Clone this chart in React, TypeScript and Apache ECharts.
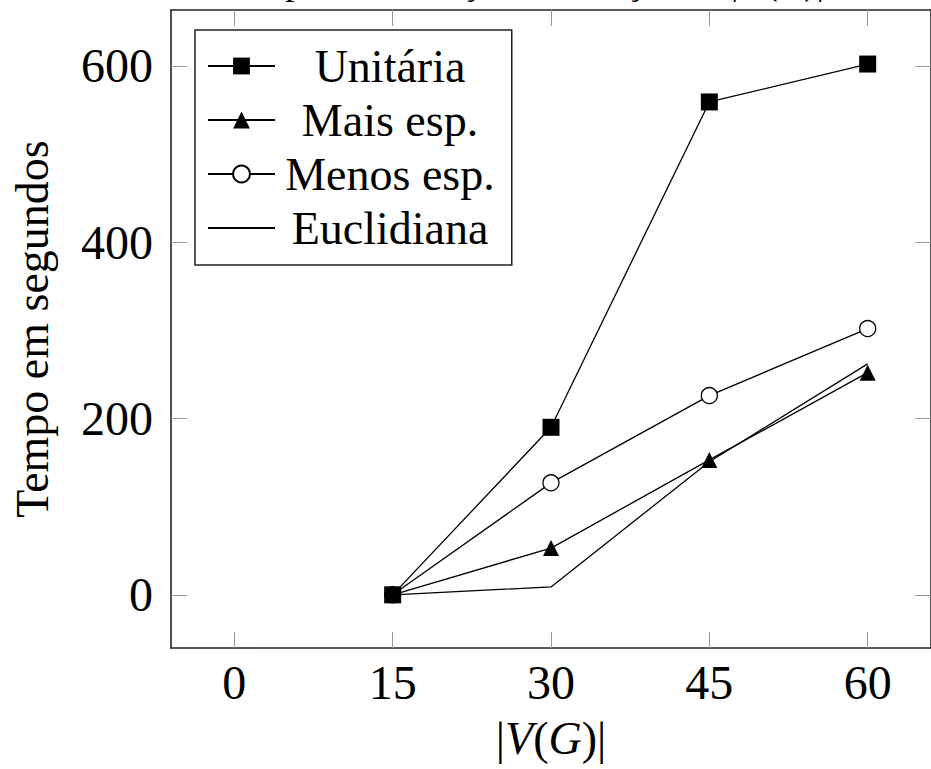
import React, { useEffect, useRef } from "react";
import * as echarts from "echarts";

const seriesNames = ["Unitária", "Mais esp.", "Menos esp.", "Euclidiana"];
const xValues = [15, 30, 45, 60];
const unitaria = [0, 190, 559, 602];
const maisEsp = [0, 53, 153, 252];
const menosEsp = [0, 127, 226, 302];
const euclidiana = [0, 9, 151, 262];
const xTicks = [0, 15, 30, 45, 60];
const yTicks = [0, 200, 400, 600];
const titleText = "Tempo de execução em função de |V(G)|";

const FONT = "Liberation Serif";

function pairs(ys: number[]) {
  return xValues.map((x, i) => [x, ys[i]]);
}

export default function App() {
  const ref = useRef<HTMLDivElement>(null);
  useEffect(() => {
    document.body.style.margin = "0";
    const chart = echarts.init(ref.current!, null, { renderer: "svg" });
    const tickStyle = { show: true, inside: true, length: 16, lineStyle: { color: "#999", width: 1 } };
    const lineAxis = { show: true, onZero: false, lineStyle: { color: "#222", width: 1.6 } };
    const lineStyle = { color: "#000", width: 1.3 };
    const TXT = 46;
    const NUM = 48;
    chart.setOption({
      animation: false,
      backgroundColor: "#fff",
      textStyle: { fontFamily: FONT },
      grid: { left: 171, top: 10, width: 769, height: 638, containLabel: false },
      graphic: [
        {
          type: "text",
          x: 522,
          y: -19,
          z: 100,
          style: {
            text: titleText,
            fontFamily: FONT,
            fontSize: 37,
            fill: "#000",
            align: "center",
            verticalAlign: "middle",
          },
        },
      ],
      legend: {
        data: [
          { name: seriesNames[0] },
          { name: seriesNames[1] },
          { name: seriesNames[2] },
          { name: seriesNames[3], itemStyle: { color: "rgba(0,0,0,0)", borderColor: "rgba(0,0,0,0)", opacity: 0 } },
        ],
        orient: "vertical",
        left: 195,
        top: 30,
        padding: [13, 17, 14, 12],
        itemGap: 8,
        itemWidth: 67,
        itemHeight: 21,
        itemTextGap: 8,
        borderColor: "#222",
        borderWidth: 1.5,
        backgroundColor: "#fff",
        formatter: "{a|{name}}",
        textStyle: {
          fontFamily: FONT,
          fontSize: TXT,
          color: "#000",
          rich: {
            a: { fontFamily: FONT, fontSize: TXT, width: 220, align: "center", color: "#000" },
          },
        },
      },
      xAxis: [
        {
          type: "value",
          min: -6,
          max: 66,
          position: "bottom",
          splitLine: { show: false },
          axisLine: lineAxis,
          axisTick: { ...tickStyle, customValues: xTicks },
          axisLabel: { fontFamily: FONT, fontSize: NUM, color: "#000", margin: 10, customValues: xTicks },
          name: "{b||}{i|V}{b|(}{i|G}{b|)|}",
          nameLocation: "middle",
          nameGap: 67,
          nameTextStyle: {
            fontFamily: FONT,
            fontSize: TXT,
            color: "#000",
            rich: {
              b: { fontFamily: FONT, fontSize: TXT, color: "#000" },
              i: { fontFamily: FONT, fontSize: TXT, fontStyle: "italic", color: "#000" },
            },
          },
        },
        {
          type: "value",
          min: -6,
          max: 66,
          position: "top",
          splitLine: { show: false },
          axisLine: lineAxis,
          axisTick: { ...tickStyle, customValues: xTicks },
          axisLabel: { show: false },
        },
      ],
      yAxis: [
        {
          type: "value",
          min: -60.3,
          max: 663.3,
          position: "left",
          splitLine: { show: false },
          axisLine: lineAxis,
          axisTick: { ...tickStyle, customValues: yTicks },
          axisLabel: { fontFamily: FONT, fontSize: NUM, color: "#000", margin: 18, customValues: yTicks },
          name: "Tempo em segundos",
          nameLocation: "middle",
          nameRotate: 90,
          nameGap: 116,
          nameTextStyle: { fontFamily: FONT, fontSize: TXT, color: "#000" },
        },
        {
          type: "value",
          min: -60.3,
          max: 663.3,
          position: "right",
          splitLine: { show: false },
          axisLine: lineAxis,
          axisTick: { ...tickStyle, customValues: yTicks },
          axisLabel: { show: false },
        },
      ],
      series: [
        {
          name: seriesNames[0],
          type: "line",
          data: pairs(unitaria),
          symbol: "rect",
          symbolSize: 17,
          z: 5,
          lineStyle,
          itemStyle: { color: "#000" },
        },
        {
          name: seriesNames[1],
          type: "line",
          data: pairs(maisEsp),
          symbol: "triangle",
          symbolSize: 16,
          z: 3,
          lineStyle,
          itemStyle: { color: "#000" },
        },
        {
          name: seriesNames[2],
          type: "line",
          data: pairs(menosEsp),
          symbol: "circle",
          symbolSize: 16,
          showAllSymbol: true,
          z: 3,
          lineStyle,
          itemStyle: { color: "#fff", borderColor: "#000", borderWidth: 1.3 },
        },
        {
          name: seriesNames[3],
          type: "line",
          data: pairs(euclidiana),
          symbol: "none",
          z: 3,
          lineStyle,
          itemStyle: { color: "#000" },
        },
      ],
    });
    return () => chart.dispose();
  }, []);
  return <div ref={ref} style={{ width: 931, height: 769 }} />;
}
